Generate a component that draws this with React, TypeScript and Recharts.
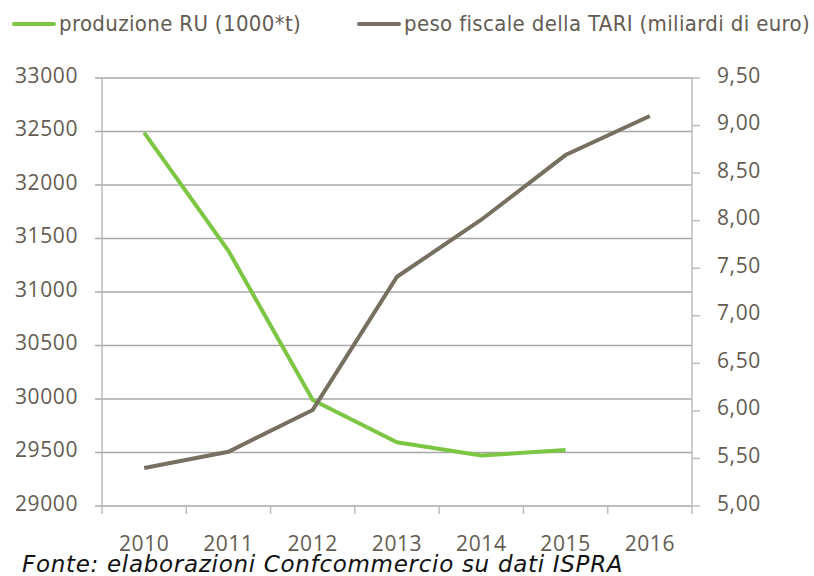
import React from 'react';
import { LineChart, Line, XAxis, YAxis, CartesianGrid } from 'recharts';

const years = ['2010', '2011', '2012', '2013', '2014', '2015', '2016'];
const produzioneRU: (number | null)[] = [32490, 31385, 29990, 29595, 29472, 29523, null];
const tariMiliardi: number[] = [5.4, 5.57, 6.01, 7.41, 8.01, 8.69, 9.1];
const leftTicks = [29000, 29500, 30000, 30500, 31000, 31500, 32000, 32500, 33000];
const rightTicks = [5, 5.5, 6, 6.5, 7, 7.5, 8, 8.5, 9, 9.5];
const seriesNames = ['produzione RU (1000*t)', 'peso fiscale della TARI (miliardi di euro)'];
const seriesColors = ['#7cc644', '#777060'];
const sourceText = 'Fonte: elaborazioni Confcommercio su dati ISPRA';

const data = years.map((y, i) => ({ year: y, ru: produzioneRU[i], tari: tariMiliardi[i] }));

const W = 814;
const H = 576;
const TEXT = '#645c52';
const GRID = '#a8a8a8';
const AXIS = '#bdbdbd';
const FONT = '"Open Sans", "DejaVu Sans", sans-serif';
const X_TICK = 8;
const X_MARGIN = 21;
const PLOT_W = 590;

const YTick = (props: any) => {
  const { x, y, payload, textAnchor, fmt } = props;
  return (
    <text x={x} y={y + 4.5} textAnchor={textAnchor} fill={TEXT} fontSize={21} fontFamily={FONT} letterSpacing={0.6}>
      {fmt ? fmt(payload.value) : payload.value}
    </text>
  );
};

const XTick = (props: any) => {
  const { x, y, payload, index, visibleTicksCount } = props;
  const off = payload.offset || PLOT_W / years.length / 2;
  const axisY = y - X_TICK - X_MARGIN;
  const isLast = index === (visibleTicksCount ?? years.length) - 1;
  return (
    <g>
      <line x1={x - off} y1={axisY} x2={x - off} y2={axisY + X_TICK} stroke={AXIS} strokeWidth={1.5} />
      {isLast && <line x1={x + off} y1={axisY} x2={x + off} y2={axisY + X_TICK} stroke={AXIS} strokeWidth={1.5} />}
      <text x={x} y={axisY + 44.5} textAnchor="middle" fill={TEXT} fontSize={21} fontFamily={FONT} letterSpacing={0.6}>
        {payload.value}
      </text>
    </g>
  );
};

const fmtComma = (v: number) => v.toFixed(2).replace('.', ',');

export default function App() {
  return (
    <div style={{ position: 'absolute', left: 0, top: 0, width: W, height: H, background: '#fff' }}>
      <LineChart width={W} height={H} data={data} margin={{ top: 78, right: 0, left: 0, bottom: 0 }}>
        <CartesianGrid yAxisId="left" vertical={false} stroke={GRID} strokeWidth={1.5} />
        <XAxis
          dataKey="year"
          scale="band"
          interval={0}
          height={70}
          tickLine={false}
          tickSize={X_TICK}
          tickMargin={X_MARGIN}
          axisLine={{ stroke: AXIS, strokeWidth: 1.5 }}
          tick={<XTick />}
        />
        <YAxis
          yAxisId="left"
          orientation="left"
          width={102}
          domain={[29000, 33000]}
          ticks={leftTicks}
          interval={0}
          tickSize={7}
          tickMargin={17}
          axisLine={{ stroke: AXIS, strokeWidth: 1.5 }}
          tickLine={{ stroke: GRID, strokeWidth: 1.5 }}
          tick={<YTick />}
        />
        <YAxis
          yAxisId="right"
          orientation="right"
          width={122}
          domain={[5, 9.5]}
          ticks={rightTicks}
          interval={0}
          tickSize={8}
          tickMargin={17}
          axisLine={{ stroke: AXIS, strokeWidth: 1.5 }}
          tickLine={{ stroke: AXIS, strokeWidth: 1.5 }}
          tick={<YTick fmt={fmtComma} />}
        />
        <Line
          yAxisId="left"
          type="linear"
          dataKey="ru"
          name={seriesNames[0]}
          stroke={seriesColors[0]}
          strokeWidth={4}
          dot={false}
          activeDot={false}
          isAnimationActive={false}
        />
        <Line
          yAxisId="right"
          type="linear"
          dataKey="tari"
          name={seriesNames[1]}
          stroke={seriesColors[1]}
          strokeWidth={4}
          dot={false}
          activeDot={false}
          isAnimationActive={false}
        />
      </LineChart>
      {seriesNames.map((n, i) => (
        <div
          key={n}
          style={{
            position: 'absolute',
            left: i === 0 ? 12 : 357,
            top: 9,
            display: 'flex',
            alignItems: 'center',
            whiteSpace: 'nowrap',
          }}
        >
          <div style={{ width: 44, height: 4, background: seriesColors[i], marginRight: 3, borderRadius: 2 }} />
          <span
            style={{
              fontFamily: '"DejaVu Sans", sans-serif',
              fontStretch: 'condensed',
              fontSize: 22,
              letterSpacing: 0.35,
              color: TEXT,
              lineHeight: '30px',
            }}
          >
            {n}
          </span>
        </div>
      ))}
      <div
        style={{
          position: 'absolute',
          left: 22,
          top: 553,
          fontFamily: '"DejaVu Sans", sans-serif',
          fontStyle: 'italic',
          fontSize: 23,
          letterSpacing: 0.7,
          color: '#111',
          whiteSpace: 'nowrap',
          lineHeight: '22px',
        }}
      >
        {sourceText}
      </div>
    </div>
  );
}
